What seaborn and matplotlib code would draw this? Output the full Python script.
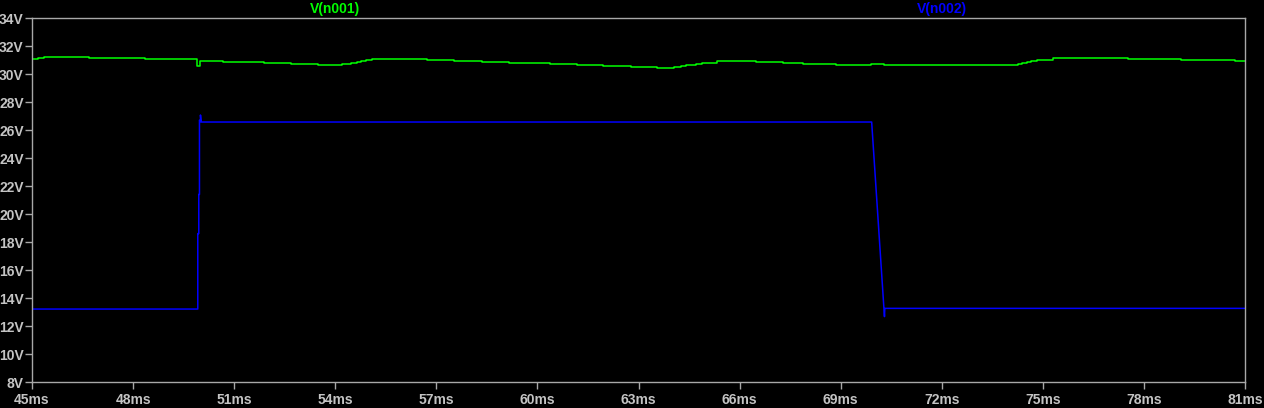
import numpy as np
import pandas as pd
import matplotlib
matplotlib.use("Agg")
import matplotlib.pyplot as plt
import seaborn as sns

# V(n001): stepped waveform (ms, V)
t_n001 = [45.00, 45.18, 45.36, 46.69, 48.35, 49.90, 49.99, 50.67, 51.89, 52.69,
          53.49, 54.20, 54.47, 54.65, 54.76, 54.91, 55.09, 56.72, 57.52, 58.36,
          59.16, 60.37, 61.17, 61.95, 62.78, 63.55, 64.05, 64.26, 64.41, 64.71,
          64.89, 65.33, 66.49, 67.29, 67.88, 68.86, 69.90, 70.29, 72.07, 74.26,
          74.38, 74.53, 74.65, 74.83, 75.30, 77.53, 79.10, 80.70, 81.00]
v_n001 = [31.05, 31.16, 31.21, 31.12, 31.05, 30.59, 30.91, 30.84, 30.76, 30.69,
          30.62, 30.71, 30.79, 30.86, 30.93, 31.00, 31.05, 30.98, 30.91, 30.84,
          30.76, 30.69, 30.64, 30.57, 30.48, 30.41, 30.48, 30.55, 30.62, 30.71,
          30.79, 30.95, 30.88, 30.81, 30.74, 30.66, 30.74, 30.67, 30.62, 30.71,
          30.79, 30.86, 30.93, 31.02, 31.12, 31.05, 30.98, 30.91, 30.91]

# V(n002): switching node
t_n002 = [45.00, 49.92, 49.92, 49.95, 49.95, 49.97, 49.97, 50.00, 50.00, 50.02,
          69.92, 70.30, 70.31, 81.00]
v_n002 = [13.21, 13.21, 18.60, 18.60, 21.40, 21.40, 26.70, 26.60, 27.07, 26.57,
          26.57, 12.67, 13.26, 13.26]

x_ticks = list(range(45, 82, 3))
y_ticks = list(range(8, 35, 2))

sns.set_style("dark")
plt.rcParams["font.family"] = ["Liberation Sans", "DejaVu Sans"]

grey = "#a8a8a8"
label_grey = "#c4c4c4"
green = "#00ff00"
blue = "#0000ff"

fig = plt.figure(figsize=(12.64, 4.08), dpi=100, facecolor="black")
ax = fig.add_axes([32 / 1264, 1 - 382 / 408, 1213 / 1264, 364 / 408])
ax.set_facecolor("black")

df1 = pd.DataFrame({"t": t_n001, "v": v_n001})
df2 = pd.DataFrame({"t": t_n002, "v": v_n002})
sns.lineplot(data=df1, x="t", y="v", ax=ax, color=green, lw=1.1,
             drawstyle="steps-post", estimator=None, sort=False)
sns.lineplot(data=df2, x="t", y="v", ax=ax, color=blue, lw=1.1,
             estimator=None, sort=False)

ax.set_xlim(45, 81)
ax.set_ylim(8, 34)
ax.set_xticks(x_ticks)
ax.set_xticklabels([f"{t}ms" for t in x_ticks], fontweight="bold")
ax.set_yticks(y_ticks)
ax.set_yticklabels([f"{v}V" for v in y_ticks], fontweight="bold")
ax.set_xlabel("")
ax.set_ylabel("")
ax.grid(False)

for s in ax.spines.values():
    s.set_visible(True)
    s.set_color(grey)
    s.set_linewidth(1.0)

ax.tick_params(axis="both", colors=grey, labelcolor=label_grey, labelsize=10,
               length=5, width=1.0, direction="out")
ax.tick_params(axis="x", pad=3)
ax.tick_params(axis="y", pad=1)
ax.tick_params(bottom=True, left=True)

ax.text(54.0, 1.026, "V(n001)", color=green, fontsize=10, fontweight="bold",
        ha="center", va="center", transform=ax.get_xaxis_transform())
ax.text(72.0, 1.026, "V(n002)", color=blue, fontsize=10, fontweight="bold",
        ha="center", va="center", transform=ax.get_xaxis_transform())

fig.savefig("out.png", dpi=100, facecolor="black")
